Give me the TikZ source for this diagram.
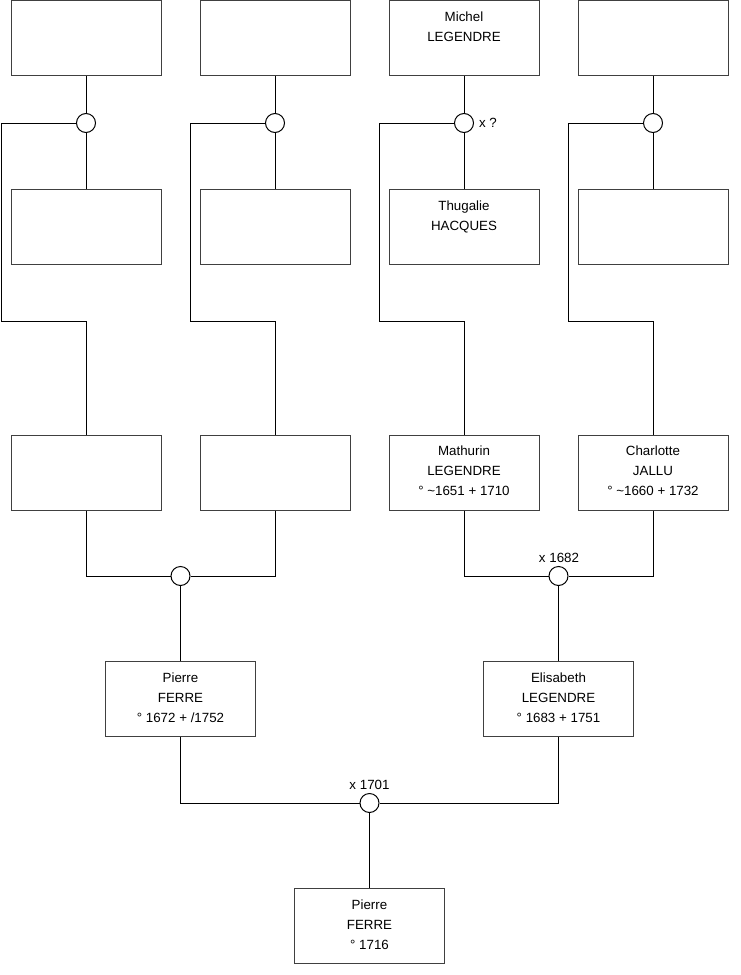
\documentclass[tikz,border=0pt]{standalone}
\usepackage{fontspec}
\setmainfont{Liberation Sans}
\begin{document}
\begin{tikzpicture}[x=0.75pt,y=-0.75pt,
  person/.style={draw=black!75, line width=0.75pt, minimum width=112.5pt, minimum height=56.25pt, inner sep=0pt},
  lbl/.style={anchor=north, yshift=-8.5pt, align=center, font=\fontsize{10}{15}\selectfont, inner sep=0pt},
  marr/.style={circle, draw=black, line width=0.75pt, minimum size=14.25pt, inner sep=0pt, fill=white},
  link/.style={draw=black, line width=0.75pt},
  note/.style={font=\fontsize{10}{12}\selectfont, inner sep=0pt}]
\useasboundingbox (0,0) rectangle (740,975);

% top row
\node[person] (a1) at (86,38) {};
\node[person] (a2) at (275,38) {};
\node[person, label={[lbl]north:{Michel\\LEGENDRE}}] (a3) at (464,38) {};
\node[person] (a4) at (653,38) {};

% marriage circles top
\node[marr] (c1) at (86,123) {};
\node[marr] (c2) at (275,123) {};
\node[marr] (c3) at (464,123) {};
\node[marr] (c4) at (653,123) {};
\node[note] (n3) at (488,123) {x ?};

% second row
\node[person] (b1) at (86,227) {};
\node[person] (b2) at (275,227) {};
\node[person, label={[lbl]north:{Thugalie\\HACQUES}}] (b3) at (464,227) {};
\node[person] (b4) at (653,227) {};

\coordinate (L1) at (1,321);
\coordinate (L2) at (190,321);
\coordinate (L3) at (379,321);
\coordinate (L4) at (568,321);

% third row
\node[person] (m1) at (86,472.5) {};
\node[person] (m2) at (275,472.5) {};
\node[person, label={[lbl]north:{Mathurin\\LEGENDRE\\° \textasciitilde1651 + 1710}}] (m3) at (464,472.5) {};
\node[person, label={[lbl]north:{Charlotte\\JALLU\\° \textasciitilde1660 + 1732}}] (m4) at (653,472.5) {};

% marriages
\node[marr] (d1) at (180.5,576) {};
\node[marr] (d2) at (558.5,576) {};
\node[note] (n2) at (559,558) {x 1682};

% fourth row
\node[person, label={[lbl]north:{Pierre\\FERRE\\° 1672 + /1752}}] (p1) at (180.5,699) {};
\node[person, label={[lbl]north:{Elisabeth\\LEGENDRE\\° 1683 + 1751}}] (p2) at (558.5,699) {};

\node[marr] (d3) at (369.5,803) {};
\node[note] (n1) at (369.5,785) {x 1701};

\node[person, label={[lbl]north:{Pierre\\FERRE\\° 1716}}] (e) at (369.5,926) {};

% connectors top
\foreach \i in {1,2,3,4}{
  \draw[link] (a\i.south) -- (c\i.north);
  \draw[link] (c\i.south) -- (b\i.north);
  \draw[link] (c\i.west) -| (L\i) -| (m\i.north);
}

\draw[link] (m1.south) |- (d1.west);
\draw[link] (d1.east) -| (m2.south);
\draw[link] (d1.south) -- (p1.north);

\draw[link] (m3.south) |- (d2.west);
\draw[link] (d2.east) -| (m4.south);
\draw[link] (d2.south) -- (p2.north);

\draw[link] (p1.south) |- (d3.west);
\draw[link] (d3.east) -| (p2.south);
\draw[link] (d3.south) -- (e.north);
\end{tikzpicture}
\end{document}
